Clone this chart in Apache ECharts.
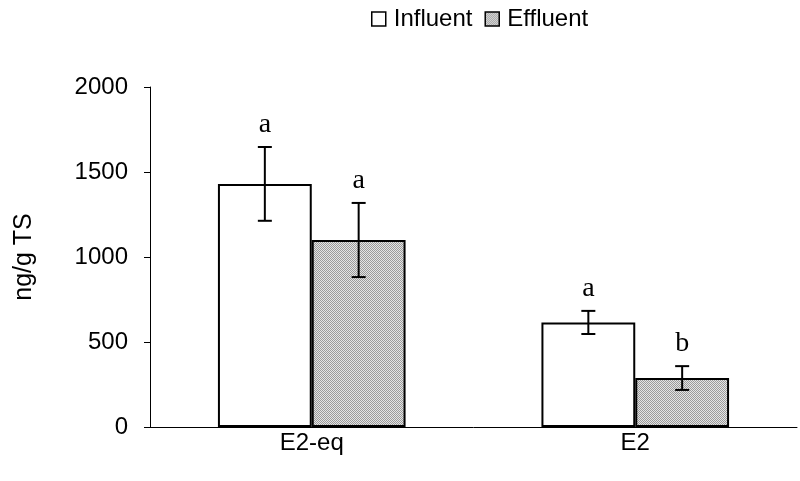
<!DOCTYPE html>
<html><head><meta charset="utf-8">
<script src="https://cdn.jsdelivr.net/npm/echarts@6/dist/echarts.min.js"></script>
<style>html,body{margin:0;padding:0;background:#fff}#c{width:800px;height:481px}</style>
</head><body><div id="c"></div>
<script>
var categories = ['E2-eq', 'E2'];
var seriesNames = ['Influent', 'Effluent'];
var influent = [1430, 615];
var effluent = [1100, 288];
var influentErr = [217, 68];
var effluentErr = [218, 70];
var influentLetters = ['a', 'a'];
var effluentLetters = ['a', 'b'];
var yTicks = [0, 500, 1000, 1500, 2000];

// dotted grey texture for effluent
var pc = document.createElement('canvas');
pc.width = 2; pc.height = 2;
var pctx = pc.getContext('2d');
pctx.fillStyle = '#e4e4e4'; pctx.fillRect(0,0,2,2);
pctx.fillStyle = '#9a9a9a'; pctx.fillRect(0,0,1,1); pctx.fillRect(1,1,1,1);
var pattern = {image: pc, repeat: 'repeat'};

var FONT = '"Liberation Sans", Arial, sans-serif';
var GAP = 0.42;
function errSeries(vals, errs, letters, side) {
  var data = categories.map(function(c, i){ return [i, vals[i], errs[i]]; });
  return {
    type: 'custom', silent: true, z: 10,
    data: data,
    renderItem: function(params, api) {
      var i = api.value(0), v = api.value(1), e = api.value(2);
      var band = api.size([1, 0])[0];
      var off = side * band * (1 - GAP) / 4;
      var top = api.coord([i, v + e]);
      var bot = api.coord([i, v - e]);
      var x = top[0] + off;
      var cap = 7;
      var st = {stroke: '#000', lineWidth: 2};
      return {type: 'group', children: [
        {type: 'line', shape: {x1: x, y1: top[1], x2: x, y2: bot[1]}, style: st},
        {type: 'line', shape: {x1: x - cap, y1: top[1], x2: x + cap, y2: top[1]}, style: st},
        {type: 'line', shape: {x1: x - cap, y1: bot[1], x2: x + cap, y2: bot[1]}, style: st},
        {type: 'text', style: {text: letters[params.dataIndex], x: x, y: top[1] - 8,
          textAlign: 'center', textVerticalAlign: 'bottom', font: '28px "Liberation Serif", serif', fill: '#000'}}
      ]};
    }
  };
}

var chart = echarts.init(document.getElementById('c'), null, {renderer: 'canvas'});
chart.setOption({
  animation: false,
  backgroundColor: '#fff',
  textStyle: {fontFamily: FONT},
  legend: {
    data: seriesNames, top: 2, left: 366, itemGap: 12,
    itemWidth: 14, itemHeight: 14, icon: 'rect',
    textStyle: {fontSize: 24, color: '#000', fontFamily: FONT, padding: [0, 0, 0, 3]},
    itemStyle: {borderWidth: 1.5, borderColor: '#000'}
  },
  grid: {left: 150, right: 3, top: 87, bottom: 54, containLabel: false, outerBoundsMode: 'none'},
  xAxis: {
    type: 'category', data: categories,
    axisLine: {lineStyle: {color: '#000', width: 1}},
    axisTick: {show: false},
    axisLabel: {color: '#000', fontSize: 24, margin: 4, fontFamily: FONT}
  },
  yAxis: {
    type: 'value', min: yTicks[0], max: yTicks[yTicks.length - 1], interval: 500,
    name: 'ng/g TS', nameLocation: 'middle', nameGap: 113, nameRotate: 90, nameMoveOverlap: false,
    nameTextStyle: {color: '#000', fontSize: 25, fontFamily: FONT},
    axisLine: {show: true, lineStyle: {color: '#000', width: 1}},
    axisTick: {show: true, inside: false, length: 6, lineStyle: {color: '#000'}},
    axisLabel: {color: '#000', fontSize: 24, margin: 22, fontFamily: FONT,
      formatter: function(v){ return String(v); }},
    splitLine: {show: false}
  },
  series: [
    {name: seriesNames[0], type: 'bar', data: influent, barGap: '0%', barCategoryGap: (GAP * 100) + '%',
     itemStyle: {color: '#fff', borderColor: '#000', borderWidth: 2}},
    {name: seriesNames[1], type: 'bar', data: effluent, barGap: '0%', barCategoryGap: (GAP * 100) + '%',
     itemStyle: {color: pattern, borderColor: '#000', borderWidth: 2}},
    errSeries(influent, influentErr, influentLetters, -1),
    errSeries(effluent, effluentErr, effluentLetters, 1)
  ]
});
</script></body></html>
